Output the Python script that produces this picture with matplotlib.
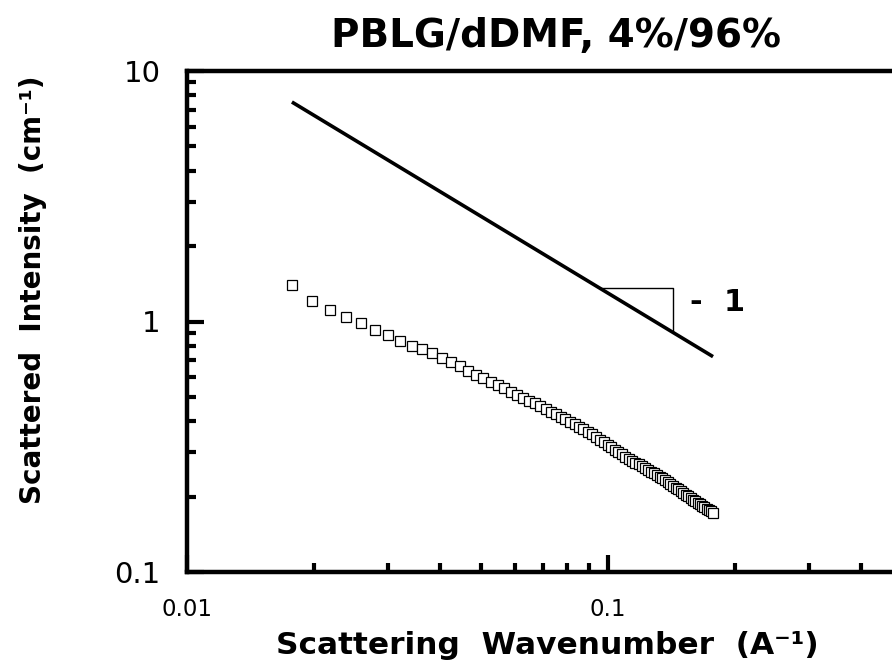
import matplotlib
matplotlib.use("Agg")
import matplotlib.pyplot as plt
from matplotlib.ticker import LogLocator, NullFormatter, FixedLocator, FixedFormatter

# ---- data ----
q = [0.01775, 0.0198, 0.02185, 0.0239, 0.02595, 0.028, 0.03005, 0.0321, 0.03415, 0.0362,
     0.03825, 0.0403, 0.04235, 0.0444, 0.04645, 0.0485, 0.05055, 0.0526, 0.05465, 0.0567,
     0.05875, 0.0608, 0.06285, 0.0649, 0.06695, 0.069, 0.07105, 0.0731, 0.07515, 0.0772,
     0.07925, 0.0813, 0.08335, 0.0854, 0.08745, 0.0895, 0.09155, 0.0936, 0.09565, 0.0977,
     0.09975, 0.1018, 0.10385, 0.1059, 0.10795, 0.11, 0.11205, 0.1141, 0.11615, 0.1182,
     0.12025, 0.1223, 0.12435, 0.1264, 0.12845, 0.1305, 0.13255, 0.1346, 0.13665, 0.1387,
     0.14075, 0.1428, 0.14485, 0.1469, 0.14895, 0.151, 0.15305, 0.1551, 0.15715, 0.1592,
     0.16125, 0.1633, 0.16535, 0.1674, 0.16945, 0.1715, 0.17355, 0.1756, 0.17765]
intensity = [1.393, 1.202, 1.107, 1.038, 0.982, 0.929, 0.887, 0.835, 0.802, 0.775,
             0.752, 0.713, 0.688, 0.663, 0.633, 0.610, 0.593, 0.574, 0.558, 0.541,
             0.525, 0.510, 0.496, 0.483, 0.471, 0.459, 0.448, 0.437, 0.427, 0.417,
             0.407, 0.397, 0.388, 0.379, 0.371, 0.363, 0.355, 0.347, 0.338, 0.330,
             0.322, 0.315, 0.308, 0.301, 0.2947, 0.2884, 0.2829, 0.278, 0.2733, 0.2688,
             0.2642, 0.260, 0.2559, 0.2518, 0.248, 0.2441, 0.2404, 0.2364, 0.2323, 0.2282,
             0.2244, 0.2207, 0.2171, 0.2136, 0.2102, 0.2068, 0.2036, 0.2005, 0.1974, 0.1946,
             0.1919, 0.1892, 0.1866, 0.1840, 0.1815, 0.1791, 0.1768, 0.1745, 0.1722]

slope_line_q = [0.01775, 0.1776]
slope_line_I = [7.52, 0.724]
triangle_q = [0.0957, 0.1427, 0.1427]
triangle_I = [1.355, 1.355, 0.912]
slope_label = "-  1"
slope_label_q = 0.1565
slope_label_I = 1.19

x_ticks = [0.01, 0.1]
x_tick_labels = ["0.01", "0.1"]
y_ticks = [0.1, 1, 10]
y_tick_labels = ["0.1", "1", "10"]

title = "PBLG/dDMF, 4%/96%"
xlabel = "Scattering  Wavenumber  (A\u207b\u00b9)"
ylabel = "Scattered  Intensity  (cm\u207b\u00b9)"

# ---- figure ----
W, H = 892, 672
fig = plt.figure(figsize=(W / 100, H / 100), dpi=100)
left, right, top, bottom = 187, 187 + 2 * 421, 71, 572
ax = fig.add_axes([left / W, 1 - bottom / H, (right - left) / W, (bottom - top) / H])

ax.set_xscale("log")
ax.set_yscale("log")
ax.set_xlim(0.01, 1)
ax.set_ylim(0.1, 10)

ax.plot(q, intensity, linestyle="none", marker="s", markersize=7.0,
        markerfacecolor="white", markeredgecolor="black", markeredgewidth=0.9)
ax.plot(slope_line_q, slope_line_I, color="black", linewidth=2.6, solid_capstyle="butt")
ax.plot(triangle_q, triangle_I, color="black", linewidth=1.0)
ax.text(slope_label_q, slope_label_I, slope_label, fontsize=22, fontweight="bold",
        ha="left", va="center", family="DejaVu Sans")

for side in ["left", "bottom", "top"]:
    ax.spines[side].set_linewidth(3.2)
ax.spines["right"].set_visible(False)

ax.xaxis.set_major_locator(FixedLocator(x_ticks))
ax.xaxis.set_major_formatter(FixedFormatter(x_tick_labels))
ax.yaxis.set_major_locator(FixedLocator(y_ticks))
ax.yaxis.set_major_formatter(FixedFormatter(y_tick_labels))
ax.xaxis.set_minor_locator(LogLocator(base=10, subs=range(2, 10)))
ax.yaxis.set_minor_locator(LogLocator(base=10, subs=range(2, 10)))
ax.xaxis.set_minor_formatter(NullFormatter())
ax.yaxis.set_minor_formatter(NullFormatter())

ax.tick_params(which="major", direction="in", length=12, width=3, top=False, right=False)
ax.tick_params(which="minor", direction="in", length=6.5, width=3, top=False, right=False)
ax.tick_params(axis="x", which="major", labelsize=16.5, pad=19)
ax.tick_params(axis="y", which="major", labelsize=21, pad=19)

fig.text(556 / W, 1 - 36 / H, title, fontsize=28, fontweight="bold",
         ha="center", va="center")
fig.text(547 / W, 1 - 645 / H, xlabel, fontsize=22.5, fontweight="bold",
         ha="center", va="center")
fig.text(33 / W, 1 - 290 / H, ylabel, fontsize=20, fontweight="bold",
         ha="center", va="center", rotation=90)

fig.savefig("out.png", dpi=100)
